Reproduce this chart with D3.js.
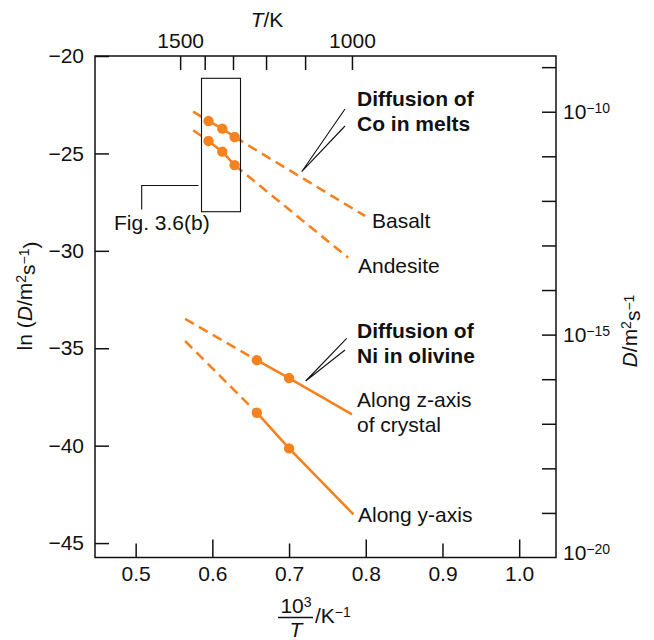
<!DOCTYPE html>
<html>
<head>
<meta charset="utf-8">
<script src="https://cdn.jsdelivr.net/npm/d3@7"></script>
<style>
  body { margin: 0; background: #fff; }
  text { font-family: "Liberation Sans", Arial, Helvetica, sans-serif; fill: #111; }
</style>
</head>
<body>
<script>
// ---------- data ----------
const xTicks = [0.5, 0.6, 0.7, 0.8, 0.9, 1.0];
const yTicks = [-20, -25, -30, -35, -40, -45];
const topTempTicks = [1500, 1400, 1300, 1200, 1100, 1000];
const topTempLabels = [1500, 1000];
const rightLogTicks = [-9, -10, -11, -12, -13, -14, -15, -16, -17, -18, -19];
const rightLogLabels = [-10, -15, -20];

// Co in melts (x = 1000/T, y = ln D)
const coX = [0.595, 0.613, 0.629];
const basaltLnD = [-23.34, -23.73, -24.16];
const andesiteLnD = [-24.36, -24.91, -25.60];
const basaltExt = [[0.575, -22.86], [0.799, -28.21]];
const andesiteExt = [[0.575, -23.81], [0.777, -30.35]];

// Ni in olivine
const niX = [0.658, 0.700];
const zAxisLnD = [-35.61, -36.53];
const yAxisLnD = [-38.31, -40.14];
const zAxisExt = [[0.5645, -33.49], [0.782, -38.39]];
const yAxisExt = [[0.5645, -34.63], [0.784, -43.53]];

// ---------- layout ----------
const W = 654, H = 640;
const L = 95, R = 556, T = 56, B = 557.5;
const ORANGE = "#f5821f";
const FS = 21;
const SUP = 14;

const svg = d3.select("body").append("svg").attr("width", W).attr("height", H);

const x = d3.scaleLinear().domain([0.447, 1.048]).range([L, R]);
const y = d3.scaleLinear().domain([-20, -45.74]).range([T, B]);
// top axis (1000/T), placed as in the reference
const xTop = d3.scaleLinear().domain([1000 / 1500, 1.0]).range([x(0.558), x(0.782)]);
// right axis (log10 D)
const yR = d3.scaleLinear().domain([-10, -20]).range([y(-22.86), B]);

// ---------- axes ----------
const gB = svg.append("g").attr("transform", `translate(0,${B})`)
  .call(d3.axisBottom(x).tickValues(xTicks).tickSizeInner(-14).tickSizeOuter(0)
    .tickPadding(9).tickFormat(d3.format(".1f")));
gB.selectAll(".tick line").attr("y2", (d, i) => (i % 2 === 1 ? -18 : -14));

const gL = svg.append("g").attr("transform", `translate(${L},0)`)
  .call(d3.axisLeft(y).tickValues(yTicks).tickSizeInner(-14).tickSizeOuter(0).tickPadding(11));

const gT = svg.append("g").attr("transform", `translate(0,${T})`)
  .call(d3.axisTop(xTop).tickValues(topTempTicks.map(t => 1000 / t)).tickSizeInner(-14)
    .tickSizeOuter(0).tickPadding(8)
    .tickFormat(v => {
      const t = Math.round(1000 / v);
      return topTempLabels.includes(t) ? String(t) : "";
    }));

const gR = svg.append("g").attr("transform", `translate(${R},0)`)
  .call(d3.axisRight(yR).tickValues(rightLogTicks).tickSizeInner(-14).tickSizeOuter(0)
    .tickFormat(""));

[gB, gL, gT, gR].forEach(g => {
  g.select(".domain").remove();
  g.selectAll(".tick line").attr("stroke", "#111").attr("stroke-width", 1.5);
  g.selectAll("text").attr("font-size", FS)
    .style("font-family", '"Liberation Sans", Arial, sans-serif').attr("fill", "#111");
});

// right labels 10^n
rightLogLabels.forEach(n => {
  const yy = n === -20 ? yR(n) - 5 : yR(n);
  const t = svg.append("text").attr("x", R + 7).attr("y", yy).attr("dy", "0.36em")
    .attr("font-size", FS);
  t.append("tspan").text("10");
  t.append("tspan").attr("dy", "-0.45em").attr("font-size", SUP).text("−" + (-n));
});

// frame
svg.append("rect").attr("x", L).attr("y", T).attr("width", R - L).attr("height", B - T)
  .attr("fill", "none").attr("stroke", "#111").attr("stroke-width", 1.5);

// ---------- axis titles ----------
const tt = svg.append("text").attr("x", 267).attr("y", 27).attr("text-anchor", "middle")
  .attr("font-size", FS);
tt.append("tspan").attr("font-style", "italic").text("T");
tt.append("tspan").text("/K");

const lt = svg.append("text").attr("transform", "translate(32,296) rotate(-90)")
  .attr("text-anchor", "middle").attr("font-size", FS);
lt.append("tspan").text("ln (");
lt.append("tspan").attr("font-style", "italic").text("D");
lt.append("tspan").text("/m");
lt.append("tspan").attr("dy", "-0.45em").attr("font-size", SUP).text("2");
lt.append("tspan").attr("dy", "0.45em").text("s");
lt.append("tspan").attr("dy", "-0.45em").attr("font-size", SUP).text("−1");
lt.append("tspan").attr("dy", "0.45em").text(")");

const rt = svg.append("text").attr("transform", "translate(637,331) rotate(-90)")
  .attr("text-anchor", "middle").attr("font-size", FS);
rt.append("tspan").attr("font-style", "italic").text("D");
rt.append("tspan").text("/m");
rt.append("tspan").attr("dy", "-0.45em").attr("font-size", SUP).text("2");
rt.append("tspan").attr("dy", "0.45em").text("s");
rt.append("tspan").attr("dy", "-0.45em").attr("font-size", SUP).text("−1");

// bottom fraction
svg.append("text").attr("x", 296).attr("y", 613).attr("text-anchor", "middle")
  .attr("font-size", FS).call(t => {
    t.append("tspan").text("10");
    t.append("tspan").attr("dy", "-0.45em").attr("font-size", SUP).text("3");
  });
svg.append("line").attr("x1", 278).attr("x2", 313).attr("y1", 617.5).attr("y2", 617.5)
  .attr("stroke", "#111").attr("stroke-width", 1.3);
svg.append("text").attr("x", 296).attr("y", 637).attr("text-anchor", "middle")
  .attr("font-size", FS).attr("font-style", "italic").text("T");
svg.append("text").attr("x", 315).attr("y", 623).attr("font-size", FS).call(t => {
  t.append("tspan").text("/K");
  t.append("tspan").attr("dy", "-0.45em").attr("font-size", SUP).text("−1");
});

// ---------- data lines ----------
const line = d3.line().x(d => x(d[0])).y(d => y(d[1]));
const plot = svg.append("g");

function seg(pts, dashed) {
  plot.append("path").attr("d", line(pts)).attr("fill", "none")
    .attr("stroke", ORANGE).attr("stroke-width", 2.6)
    .attr("stroke-dasharray", dashed ? "10,6" : null);
}
function dots(xs, ys) {
  plot.selectAll(null).data(xs.map((v, i) => [v, ys[i]])).enter().append("circle")
    .attr("cx", d => x(d[0])).attr("cy", d => y(d[1])).attr("r", 5.2).attr("fill", ORANGE);
}

[[basaltLnD, basaltExt], [andesiteLnD, andesiteExt]].forEach(([ys, ext]) => {
  const pts = coX.map((v, i) => [v, ys[i]]);
  seg([ext[0], pts[0]], true);
  seg(pts, false);
  seg([pts[pts.length - 1], ext[1]], true);
  dots(coX, ys);
});

[[zAxisLnD, zAxisExt], [yAxisLnD, yAxisExt]].forEach(([ys, ext]) => {
  const pts = niX.map((v, i) => [v, ys[i]]);
  seg([ext[0], pts[0]], true);
  seg([...pts, ext[1]], false);
  dots(niX, ys);
});

// ---------- annotations ----------
function label(xp, yp, txt, bold) {
  svg.append("text").attr("x", xp).attr("y", yp).attr("font-size", FS)
    .attr("font-weight", bold ? "bold" : "normal").text(txt);
}
label(357, 106, "Diffusion of", true);
label(357, 131, "Co in melts", true);
label(372, 228, "Basalt");
label(358, 273, "Andesite");
label(357, 338, "Diffusion of", true);
label(357, 363, "Ni in olivine", true);
label(357, 407, "Along z-axis");
label(357, 432, "of crystal");
label(358, 522, "Along y-axis");
label(114, 230, "Fig. 3.6(b)");

const thin = (pts) => svg.append("path").attr("d", d3.line()(pts)).attr("fill", "none")
  .attr("stroke", "#111").attr("stroke-width", 1.1);
thin([[345, 109], [301.7, 171.7], [345, 126]]);
thin([[346.7, 338.3], [305.7, 381], [345, 350]]);
thin([[198.5, 185.5], [141.7, 185.5], [141.7, 209.5]]);
svg.append("rect").attr("x", 201.5).attr("y", 78.3).attr("width", 39).attr("height", 133.4)
  .attr("fill", "none").attr("stroke", "#111").attr("stroke-width", 1.1);
</script>
</body>
</html>
